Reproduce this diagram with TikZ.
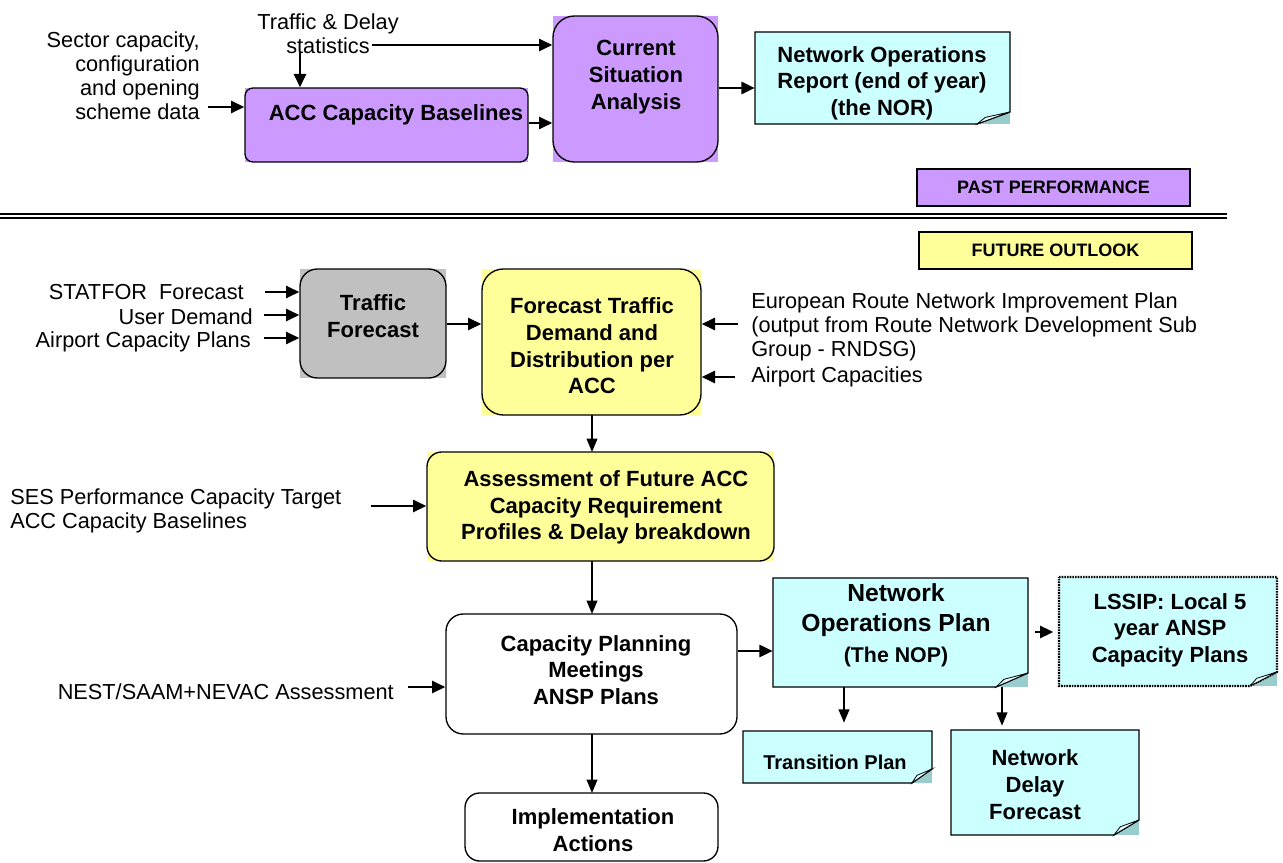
\documentclass[tikz,border=0pt]{standalone}
\usepackage{fontspec}
\setmainfont{Liberation Sans}
\usetikzlibrary{arrows.meta,fit}
\definecolor{purp}{HTML}{CC99FF}
\definecolor{yell}{HTML}{FFFF99}
\definecolor{greyf}{HTML}{C0C0C0}
\definecolor{cyanf}{HTML}{CCFFFF}
\definecolor{foldc}{HTML}{99CCCC}
\newcommand{\rbox}[8][]{%
  \fill[#8] (#3,#4) rectangle (#5,#6);
  \node[fit={(#3,#4) (#5,#6)}, inner sep=0pt, draw, line width=1pt, rounded corners=#7,#1] (#2) {};}
\newcommand{\notebox}[8][]{%
  \fill[foldc] (#5-#7,#6-#8) rectangle (#5,#6);
  \filldraw[fill=cyanf, line width=1pt,#1] (#3,#4) -- (#5,#4) -- (#5,#6-#8) -- (#5-#7,#6) -- (#3,#6) -- cycle;
  \filldraw[fill=cyanf!50!white, line width=0.6pt] (#5-#7,#6) -- (#5,#6-#8) -- (#5-0.75*#7,#6-0.55*#8) -- cycle;
  \node[fit={(#3,#4) (#5,#6)}, inner sep=0pt] (#2) {};}
\begin{document}
\begin{tikzpicture}[x=0.75pt,y=-0.75pt,
  lbl/.style={font=\fontsize{16.3}{18}\selectfont, inner sep=0pt},
  btxt/.style={font=\fontsize{16.5}{20}\selectfont\bfseries, align=center, inner sep=0pt},
  tag/.style={font=\fontsize{13.5}{16}\selectfont\bfseries, inner sep=0pt},
  arr/.style={-{Triangle[length=10pt,width=9pt]}, line width=2pt},
  tarr/.style={-{Triangle[length=10pt,width=8pt]}, line width=1.3pt}]
\useasboundingbox (0,0) rectangle (1283,863);

% ---------- past performance ----------
\node[lbl, align=right, anchor=east] (sector) at (200,76) {Sector capacity,\\configuration\\and opening\\scheme data};
\node[lbl, align=center] (tds) at (328,34) {Traffic \& Delay\\statistics};

\rbox{acc}{245}{88}{528}{162}{6pt}{purp}
\node[btxt] (acct) at (396,115) {ACC Capacity Baselines};

\rbox{csa}{553}{16}{718}{162}{16pt}{purp}
\node[btxt] (csat) at (636,77) {Current\\Situation\\Analysis};

\notebox{nor}{755}{32}{1010}{124}{33}{12}
\node[btxt] (nort) at (882,83) {Network Operations\\Report (end of year)\\(the NOR)};

\fill[purp] (917,169) rectangle (1190,206);
\node[fit={(917,169) (1190,206)}, inner sep=0pt, draw, line width=1pt] (past) {};
\node[tag] (pastt) at (past.center) {PAST PERFORMANCE};

\coordinate (sectorArr) at (208,107);
\draw[arr] (sectorArr) -- (sectorArr -| acc.west);
\coordinate (tdsRight) at (372,45);
\draw[arr] (tdsRight) -- (tdsRight -| csa.west);
\coordinate (tdsDown) at (300,52);
\draw[arr] (tdsDown) -- (tdsDown |- acc.north);
\draw[arr] (acc.east |- 0,123) -- (csa.west |- 0,123);
\draw[arr] (csa.east |- 0,88) -- (nor.west |- 0,88);

% ---------- separator ----------
\coordinate (sepL) at (0,214);
\coordinate (sepR) at (1227,214);
\draw[line width=1.2pt] (sepL) -- (sepR);
\draw[line width=1.2pt] ([yshift=-3pt]sepL) -- ([yshift=-3pt]sepR);

% ---------- future outlook ----------
\fill[yell] (919,232) rectangle (1192,269);
\node[fit={(919,232) (1192,269)}, inner sep=0pt, draw, line width=1pt] (fut) {};
\node[tag] (futt) at (fut.center) {FUTURE OUTLOOK};

\node[lbl, anchor=east] (statfor) at (244,292) {STATFOR\ \ Forecast};
\node[lbl, anchor=east] (userd) at (253,317) {User Demand};
\node[lbl, anchor=east] (apcp) at (251,342) {Airport Capacity Plans};

\rbox{tf}{300}{269}{446}{378}{13pt}{greyf}
\node[btxt] (tft) at (373,316) {Traffic\\Forecast};

\coordinate (a1) at (265,292);
\coordinate (a2) at (264,315);
\coordinate (a3) at (264,338);
\draw[arr] (a1) -- (a1 -| tf.west);
\draw[arr] (a2) -- (a2 -| tf.west);
\draw[arr] (a3) -- (a3 -| tf.west);

\rbox{ftd}{482}{269}{701}{415}{16pt}{yell}
\node[btxt] (ftdt) at (592,346) {Forecast Traffic\\Demand and\\Distribution per\\ACC};
\draw[arr] (tf.east |- 0,324) -- (ftd.west |- 0,324);

\node[lbl, align=left, anchor=west] (euro) at (751,326.5) {European Route Network Improvement Plan\\(output from Route Network Development Sub\\Group - RNDSG)};
\node[lbl, anchor=west] (apc) at (751,377) {Airport Capacities};
\coordinate (e1) at (738,324);
\coordinate (e2) at (735,377);
\draw[arr] (e1) -- (e1 -| ftd.east);
\draw[arr] (e2) -- (e2 -| ftd.east);

\rbox{asm}{427}{452}{774}{561}{11pt}{yell}
\node[btxt] (asmt) at (606,507.5) {Assessment of Future ACC\\Capacity Requirement\\Profiles \& Delay breakdown};
\draw[tarr] (592,415) -- (592,452);

\node[lbl, align=left, anchor=west] (ses) at (10,510.5) {SES Performance Capacity Target\\ACC Capacity Baselines};
\coordinate (s1) at (371,506);
\draw[arr] (s1) -- (s1 -| asm.west);

\rbox{cpm}{446}{614}{737}{734}{13pt}{white}
\node[btxt] (cpmt) at (596,670) {Capacity Planning\\Meetings\\ANSP Plans};
\draw[tarr] (592,561) -- (592,614);

\node[lbl, anchor=east] (nest) at (394,692) {NEST/SAAM+NEVAC Assessment};
\coordinate (n1) at (408,687);
\draw[arr] (n1) -- (n1 -| cpm.west);

\notebox{nop}{773}{578}{1028}{687}{32}{14}
\node[font=\fontsize{18.5}{22.5}\selectfont\bfseries, align=center, inner sep=0pt] (nopt) at (896,610) {Network\\Operations Plan};
\node[font=\fontsize{16}{18}\selectfont\bfseries, inner sep=0pt] (nopt2) at (896,657) {(The NOP)};
\draw[arr] (cpm.east |- 0,651) -- (nop.west |- 0,651);

\notebox[dash pattern=on 1.2pt off 0.8pt, line width=1.6pt]{lssip}{1059}{577}{1277}{686}{27}{14}
\node[btxt] (lssipt) at (1170,630) {LSSIP: Local 5\\year ANSP\\Capacity Plans};
\draw[arr, shorten <=5pt, shorten >=4pt] (nop.east |- 0,632) -- (lssip.west |- 0,632);

\notebox{trans}{743}{731}{932}{783}{20}{14}
\node[font=\fontsize{15}{18}\selectfont\bfseries, inner sep=0pt] (transt) at (835,762) {Transition Plan};
\draw[tarr, shorten >=6pt] (nop.south -| 844,0) -- (trans.north -| 844,0);

\notebox{delay}{951}{730}{1139}{835}{25}{15}
\node[btxt] (delayt) at (1035,784.5) {Network\\Delay\\Forecast};
\draw[tarr, shorten >=3pt] (nop.south -| 1002,0) -- (delay.north -| 1002,0);

\rbox{impl}{465}{793}{718}{861}{11pt}{white}
\node[btxt] (implt) at (593,830) {Implementation\\Actions};
\draw[tarr] (592,734) -- (592,793);
\end{tikzpicture}
\end{document}
